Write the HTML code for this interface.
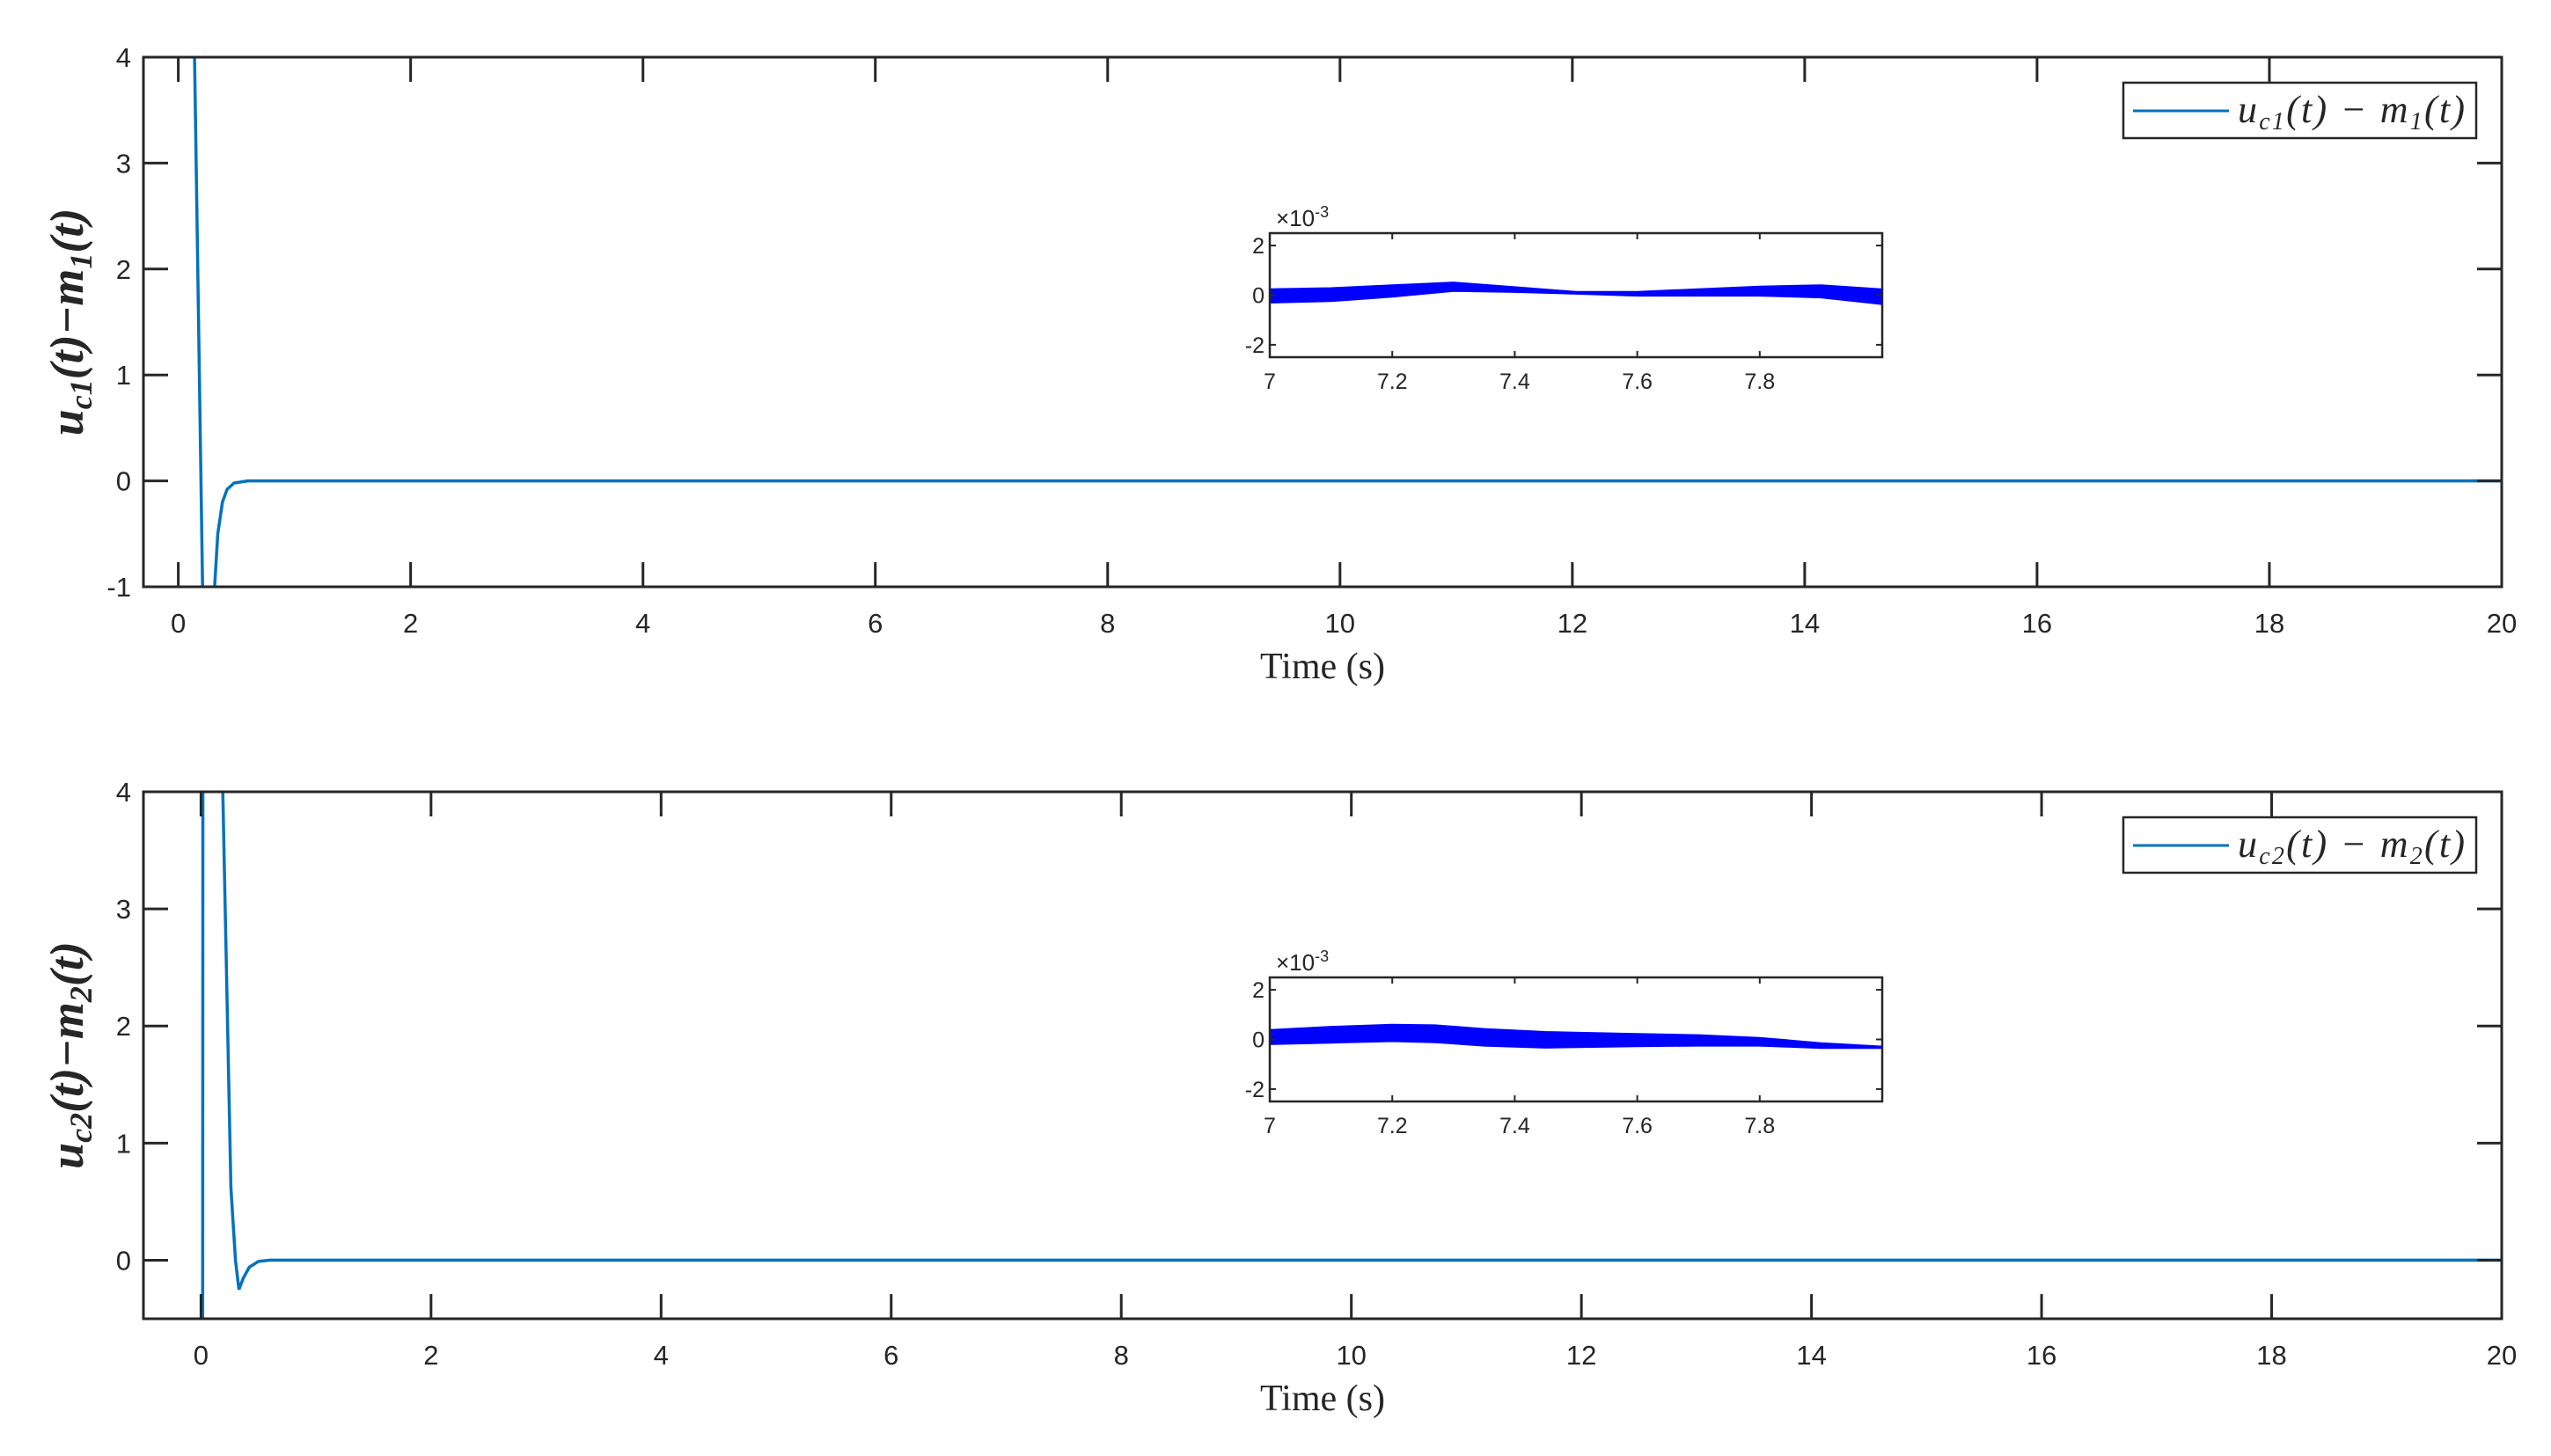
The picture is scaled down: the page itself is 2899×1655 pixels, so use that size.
<!DOCTYPE html>
<html><head><meta charset="utf-8"><style>
html,body{margin:0;padding:0;background:#fff}
svg{display:block}
text{font-family:"Liberation Sans",sans-serif;fill:#262626}
.m{font-family:"Liberation Serif",serif;font-style:italic}
.s{font-family:"Liberation Serif",serif}
</style></head><body>
<svg id="fig" width="2899" height="1655" viewBox="0 0 2899 1655" xmlns="http://www.w3.org/2000/svg"></svg>
<script>
// ---- data ----
const xTicks = [0,2,4,6,8,10,12,14,16,18,20];
const y1Ticks = [-1,0,1,2,3,4];
const y2Ticks = [0,1,2,3,4];
const s1T = [0.12,0.14,0.21,0.26,0.31,0.34,0.38,0.42,0.48,0.6,20];
const s1V = [4.6,4,-1.05,-1.8,-1.05,-0.5,-0.2,-0.08,-0.02,0,0];
const s2T = [0.013,0.015,0.017,0.18,0.19,0.26,0.30,0.33,0.37,0.42,0.5,0.6,20];
const s2V = [-0.7,-0.6,4.6,4.6,4,0.62,0,-0.25,-0.15,-0.06,-0.01,0,0];
const inXTicks = [7,7.2,7.4,7.6,7.8];
const inYTicks = [-2,0,2];
const in1T = [7.0,7.1,7.2,7.3,7.4,7.5,7.6,7.7,7.8,7.9,8.0];
const in1Hi = [0.26,0.30,0.42,0.53,0.34,0.15,0.15,0.26,0.36,0.42,0.25];
const in1Lo = [-0.32,-0.26,-0.08,0.15,0.11,0.04,-0.04,-0.04,-0.04,-0.11,-0.38];
const in2T = [7.0,7.1,7.2,7.27,7.35,7.45,7.6,7.7,7.8,7.9,8.0];
const in2Hi = [0.40,0.53,0.61,0.59,0.44,0.32,0.24,0.19,0.08,-0.13,-0.27];
const in2Lo = [-0.21,-0.15,-0.09,-0.13,-0.27,-0.35,-0.29,-0.27,-0.27,-0.36,-0.36];

const NS="http://www.w3.org/2000/svg";
const svg=document.getElementById('fig');
function el(tag,attrs,parent,txt){const e=document.createElementNS(NS,tag);for(const k in attrs)e.setAttribute(k,attrs[k]);if(txt!==undefined)e.textContent=txt;(parent||svg).appendChild(e);return e;}
function scale(d0,d1,r0,r1){return v=>r0+(v-d0)*(r1-r0)/(d1-d0);}

function mainAxes(o){
  const g=el('g',{});
  
  
  const X=scale(o.xlim[0],o.xlim[1],o.L,o.R), Y=scale(o.ylim[0],o.ylim[1],o.B,o.T);
  const cp='clip'+o.name;
  const cl=el('clipPath',{id:cp},g);el('rect',{x:o.L,y:o.T,width:o.R-o.L,height:o.B-o.T},cl);
  let d='';o.st.forEach((t,i)=>{d+=(i?'L':'M')+X(t).toFixed(1)+' '+Y(o.sv[i]).toFixed(1);});
  const p=el('path',{d:d,fill:'none',stroke:'#0072BD','stroke-width':3.5,'clip-path':'url(#'+cp+')'},g);
  
  
  xTicks.forEach(t=>{const x=X(t);
    el('line',{x1:x,x2:x,y1:o.B,y2:o.B-28,stroke:'#262626','stroke-width':3},g);
    el('line',{x1:x,x2:x,y1:o.T,y2:o.T+28,stroke:'#262626','stroke-width':3},g);
    const tx=el('text',{x:x,y:o.B+52,'font-size':31,'text-anchor':'middle'},g,String(t));
    
    
  });
  o.yt.forEach(v=>{const y=Y(v);
    el('line',{x1:o.L,x2:o.L+28,y1:y,y2:y,stroke:'#262626','stroke-width':3},g);
    el('line',{x1:o.R,x2:o.R-28,y1:y,y2:y,stroke:'#262626','stroke-width':3},g);
    const tx=el('text',{x:o.L-14,y:y+11,'font-size':31,'text-anchor':'end'},g,String(v));
    
    
  });
  el('rect',{x:o.L,y:o.T,width:o.R-o.L,height:o.B-o.T,fill:'none',stroke:'#262626','stroke-width':3},g);
  const xt=el('text',{x:(o.L+o.R)/2,y:o.B+104,'font-size':42,'text-anchor':'middle',class:'s'},g,'Time (s)');
  
  
  const cy=(o.T+o.B)/2;
  const yt=el('text',{x:0,y:0,'font-size':54,'text-anchor':'middle','font-weight':'bold',class:'m',transform:'translate(94,'+cy+') rotate(-90)'},g);
  
  
  yt.innerHTML='u<tspan font-size="36" dy="10">c'+o.k+'</tspan><tspan dy="-10">(t)−m</tspan><tspan font-size="36" dy="10">'+o.k+'</tspan><tspan dy="-10">(t)</tspan>';
  const lg=el('g',{},g);
  
  
  const lt=o.T+29;
  el('rect',{x:2413,y:lt,width:401,height:63,fill:'#fff',stroke:'#262626','stroke-width':2.5},lg);
  el('line',{x1:2424,x2:2533,y1:lt+32,y2:lt+32,stroke:'#0072BD','stroke-width':3},lg);
  const ltx=el('text',{x:2543,y:lt+45,'font-size':44,class:'m',textLength:258},lg);
  ltx.innerHTML='u<tspan font-size="28" dy="8">c'+o.k+'</tspan><tspan dy="-8">(t) − m</tspan><tspan font-size="28" dy="8">'+o.k+'</tspan><tspan dy="-8">(t)</tspan>';
  const I=o.inset, ig=el('g',{},g);
  
  
  const IX=scale(7,8,1443,2139), IY=scale(-2.5,2.5,I.B,I.T);
  el('rect',{x:1443,y:I.T,width:696,height:I.B-I.T,fill:'#fff'},ig);
  let pd='';I.t.forEach((t,i)=>{pd+=(i?'L':'M')+IX(t).toFixed(1)+' '+IY(I.hi[i]).toFixed(1);});
  for(let i=I.t.length-1;i>=0;i--)pd+='L'+IX(I.t[i]).toFixed(1)+' '+IY(I.lo[i]).toFixed(1);
  const band=el('path',{d:pd+'Z',fill:'#0000FF',stroke:'#0000FF','stroke-width':1},ig);
  
  
  inXTicks.forEach(t=>{const x=IX(t);
    el('line',{x1:x,x2:x,y1:I.B,y2:I.B-7,stroke:'#262626','stroke-width':2},ig);
    el('line',{x1:x,x2:x,y1:I.T,y2:I.T+7,stroke:'#262626','stroke-width':2},ig);
    const tx=el('text',{x:x,y:I.B+36,'font-size':25,'text-anchor':'middle'},ig,String(t));
    
    
  });
  inYTicks.forEach(v=>{const y=IY(v);
    el('line',{x1:1443,x2:1450,y1:y,y2:y,stroke:'#262626','stroke-width':2},ig);
    el('line',{x1:2139,x2:2132,y1:y,y2:y,stroke:'#262626','stroke-width':2},ig);
    const tx=el('text',{x:1437,y:y+9,'font-size':25,'text-anchor':'end'},ig,String(v));
    
    
  });
  el('rect',{x:1443,y:I.T,width:696,height:I.B-I.T,fill:'none',stroke:'#262626','stroke-width':2.5},ig);
  const ex=el('text',{x:1450,y:I.T-8,'font-size':26},ig);
  ex.innerHTML='×10<tspan font-size="18" dy="-10">-3</tspan>';
  
  
}
mainAxes({name:'top-plot',k:'1',L:163,R:2843,T:65,B:667,xlim:[-0.3,20],ylim:[-1,4],yt:y1Ticks,st:s1T,sv:s1V,
  inset:{T:265,B:406,t:in1T,hi:in1Hi,lo:in1Lo}});
mainAxes({name:'bottom-plot',k:'2',L:163,R:2843,T:900,B:1499,xlim:[-0.5,20],ylim:[-0.5,4],yt:y2Ticks,st:s2T,sv:s2V,
  inset:{T:1111,B:1252,t:in2T,hi:in2Hi,lo:in2Lo}});
</script>
</body></html>
